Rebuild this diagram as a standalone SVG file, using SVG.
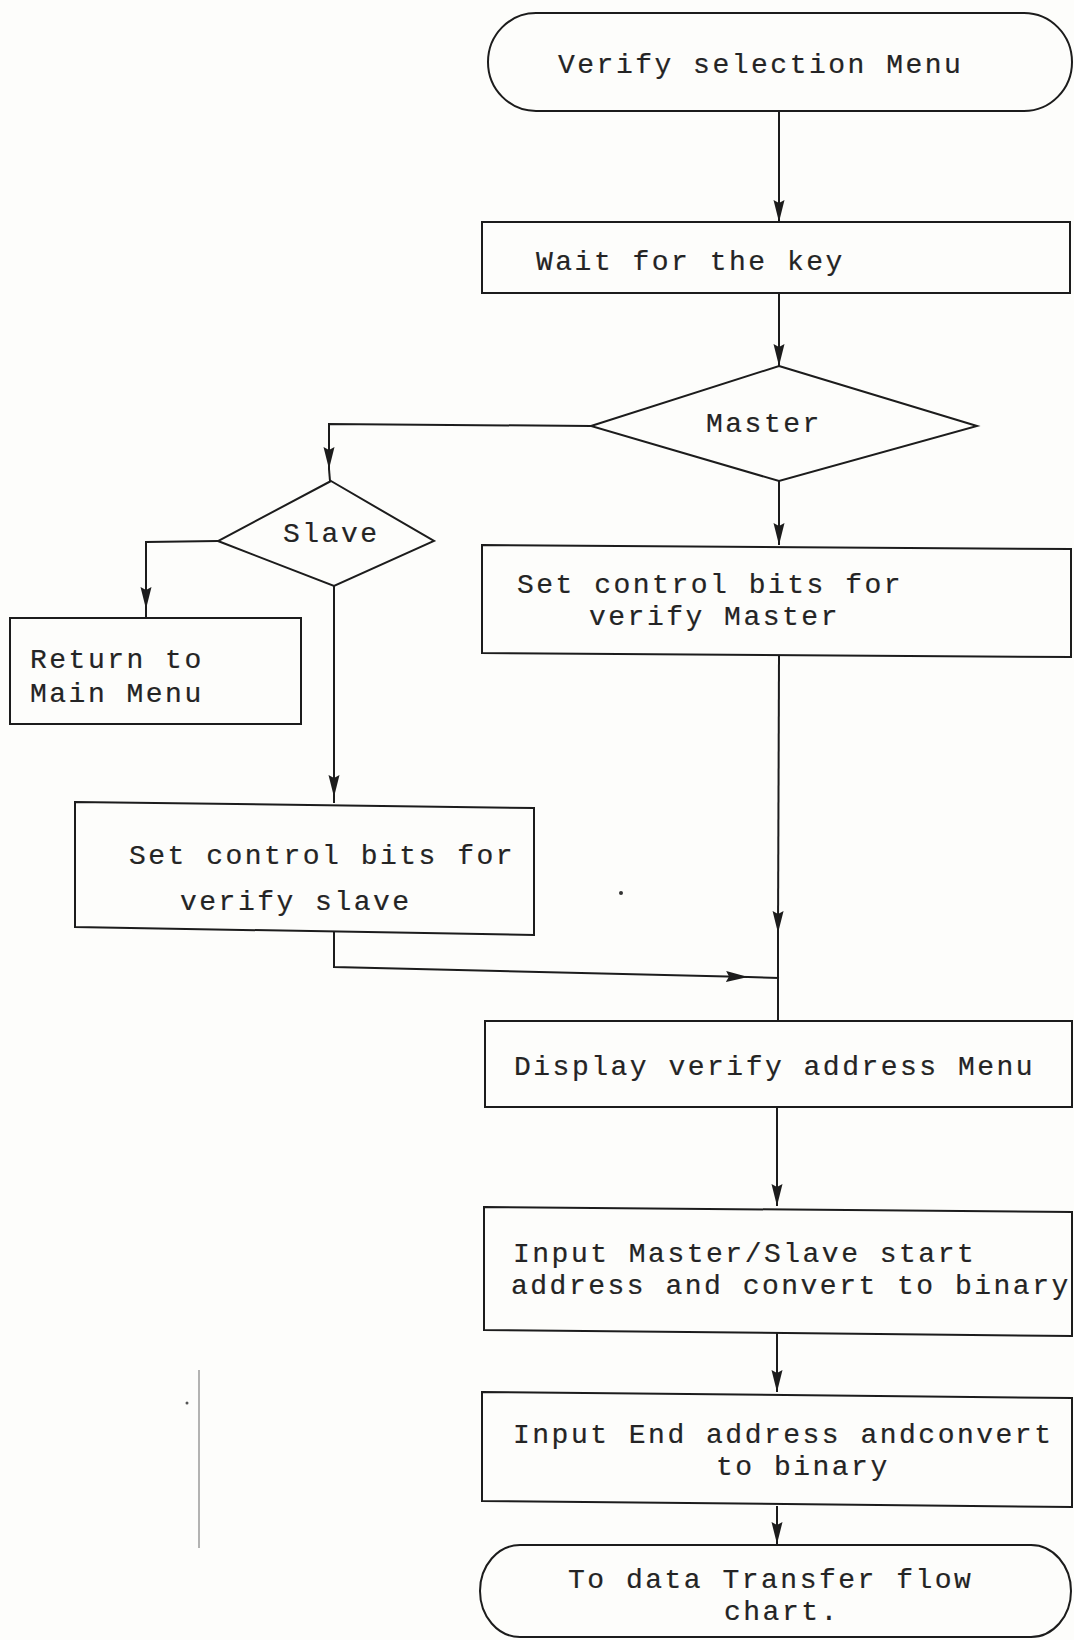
<svg xmlns="http://www.w3.org/2000/svg" width="1074" height="1640" viewBox="0 0 1074 1640">
  <style>
    .shape { fill: none; stroke: #1c1c1c; stroke-width: 2; stroke-linejoin: miter; }
    .wire { fill: none; stroke: #1c1c1c; stroke-width: 2; }
    .label { font-family: "Liberation Mono", "Courier New", monospace; font-size: 28px; letter-spacing: 2.5px; fill: #242424; stroke: #242424; stroke-width: 0.2; }
    .mark { fill: none; stroke: #9a9a9a; stroke-width: 1.5; }
  </style>
  <defs>
    <marker id="dart" markerUnits="userSpaceOnUse" markerWidth="24" markerHeight="12" refX="22" refY="5.5" orient="auto">
      <path d="M0,0 L22,5.5 L0,11 L3,5.5 z" fill="#1c1c1c"/>
    </marker>
  </defs>

  <rect x="0" y="0" width="1074" height="1640" fill="#fdfdfb"/>

  <!-- stray marks on the sheet -->
  <g id="sheet-marks">
    <line class="mark" x1="199" y1="1370" x2="199" y2="1548"/>
    <circle cx="187" cy="1403" r="1.5" fill="#555"/>
    <circle cx="621" cy="893" r="2" fill="#333"/>
  </g>

  <!-- connectors -->
  <g id="connectors">
    <path class="wire" d="M779,112 L779,222" marker-end="url(#dart)"/>
    <path class="wire" d="M779,293 L779,366" marker-end="url(#dart)"/>
    <path class="wire" d="M591,426 L329,424 L329,469" marker-end="url(#dart)"/>
    <path class="wire" d="M329,469 L330,481"/>
    <path class="wire" d="M779,481 L779,545" marker-end="url(#dart)"/>
    <path class="wire" d="M218,541 L146,542 L146,609" marker-end="url(#dart)"/>
    <path class="wire" d="M146,609 L146,618"/>
    <path class="wire" d="M334,586 L334,797" marker-end="url(#dart)"/>
    <path class="wire" d="M334,797 L334,803"/>
    <path class="wire" d="M334,931 L334,967 L748,977" marker-end="url(#dart)"/>
    <path class="wire" d="M748,977 L779,978"/>
    <path class="wire" d="M779,656 L778,933" marker-end="url(#dart)"/>
    <path class="wire" d="M778,933 L778,1021"/>
    <path class="wire" d="M777,1106 L777,1206" marker-end="url(#dart)"/>
    <path class="wire" d="M777,1332 L777,1392" marker-end="url(#dart)"/>
    <path class="wire" d="M777,1506 L777,1544" marker-end="url(#dart)"/>
  </g>

  <g id="verify-selection-menu">
    <rect class="shape" x="488" y="13" width="584" height="98" rx="48" ry="49"/>
    <text class="label" x="558" y="73">Verify selection Menu</text>
  </g>

  <g id="wait-for-key">
    <rect class="shape" x="482" y="222" width="588" height="71"/>
    <text class="label" x="536" y="270">Wait for the key</text>
  </g>

  <g id="master-decision">
    <polygon class="shape" points="779,366 977,426 779,481 591,426"/>
    <text class="label" x="706" y="432">Master</text>
  </g>

  <g id="slave-decision">
    <polygon class="shape" points="331,481 434,541 334,586 218,541"/>
    <text class="label" x="283" y="542">Slave</text>
  </g>

  <g id="return-main-menu">
    <rect class="shape" x="10" y="618" width="291" height="106"/>
    <text class="label" x="30" y="668">Return to</text>
    <text class="label" x="30" y="702">Main Menu</text>
  </g>

  <g id="set-bits-master">
    <polygon class="shape" points="482,545 1071,549 1071,657 482,653"/>
    <text class="label" x="517" y="593">Set control bits for</text>
    <text class="label" x="589" y="625">verify Master</text>
  </g>

  <g id="set-bits-slave">
    <polygon class="shape" points="75,802 534,808 534,935 75,927"/>
    <text class="label" x="129" y="864">Set control bits for</text>
    <text class="label" x="180" y="910">verify slave</text>
  </g>

  <g id="display-address-menu">
    <rect class="shape" x="485" y="1021" width="587" height="86"/>
    <text class="label" x="514" y="1075">Display verify address Menu</text>
  </g>

  <g id="input-start-address">
    <polygon class="shape" points="484,1207 1072,1212 1072,1336 484,1330"/>
    <text class="label" x="513" y="1262">Input Master/Slave start</text>
    <text class="label" x="511" y="1294">address and convert to binary</text>
  </g>

  <g id="input-end-address">
    <polygon class="shape" points="482,1392 1072,1398 1072,1507 482,1501"/>
    <text class="label" x="513" y="1443">Input End address andconvert</text>
    <text class="label" x="716" y="1475">to binary</text>
  </g>

  <g id="to-data-transfer">
    <rect class="shape" x="480" y="1545" width="591" height="92" rx="40" ry="46"/>
    <text class="label" x="568" y="1588">To data Transfer flow</text>
    <text class="label" x="724" y="1620">chart.</text>
  </g>
</svg>
